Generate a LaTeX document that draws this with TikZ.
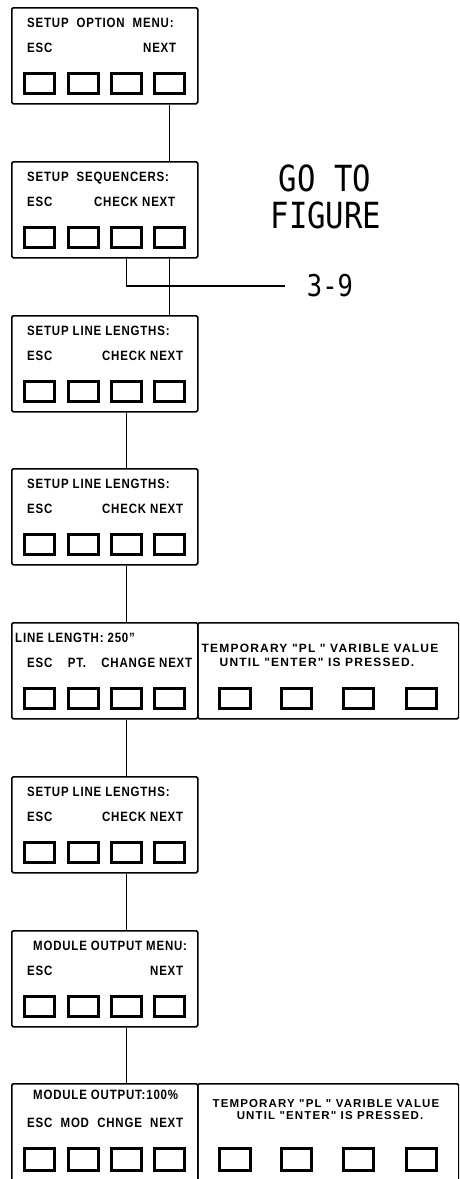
\documentclass[tikz,border=0pt]{standalone}
\usepackage{fontspec}
\setmainfont{Liberation Sans}[FakeStretch=0.85, LetterSpace=6]
\newfontfamily\notefont{Liberation Sans}[LetterSpace=10]
\newfontfamily\cadmono{DejaVu Sans Mono}[FakeStretch=0.85]
\usetikzlibrary{calc}
\newcommand\qq{\symbol{34}}
\newcommand\lpanel[6]{% name, top, title x, title, row2 width, row2
  \node[panel] (#1) at (11,#2) {};
  \node[lbl] (#1t) at (#3,#2+20.5) {#4};
  \node[lbl] (#1r) at (27,#2+45.5) {\makebox[#5pt][s]{#6}};
  \foreach \k/\cx in {1/39.5,2/83.5,3/126.5,4/169.5}
    \node[key] (#1k\k) at (\cx,#2+76.5) {};
}
\begin{document}
\begin{tikzpicture}[x=1pt,y=-1pt,
  panel/.style={draw, line width=1.6pt, rounded corners=1.5pt, minimum width=186pt,
    minimum height=96pt, anchor=north west, inner sep=0pt},
  key/.style={draw, line width=2.8pt, minimum width=30.5pt, minimum height=19.5pt, inner sep=0pt},
  wire/.style={line width=1.6pt},
  lbl/.style={font=\bfseries\fontsize{13.5}{13.5}\selectfont, anchor=base west, inner sep=0pt},
  note/.style={inner sep=0pt, anchor=base, font=\notefont\bfseries\fontsize{12}{12}\selectfont},
  big/.style={font=\cadmono\fontsize{36}{36}\selectfont, inner sep=0pt},
]
\useasboundingbox (0,0) rectangle (459,1179);
\clip (0,0) rectangle (459,1179);

\lpanel{b1}{7}{27}{SETUP\ \ OPTION\ \ MENU:}{149}{ESC\hfill NEXT}
\lpanel{b2}{161}{27}{SETUP\ \ SEQUENCERS:}{148}{ESC\hfill CHECK NEXT}
\lpanel{b3}{315}{27}{SETUP LINE LENGTHS:}{156}{ESC\hfill CHECK NEXT}
\lpanel{b4}{468}{27}{SETUP LINE LENGTHS:}{156}{ESC\hfill CHECK NEXT}
\lpanel{b5}{622}{15}{LINE LENGTH: 250\qq}{165}{ESC\hfill PT.\hfill CHANGE NEXT}
\lpanel{b6}{776}{27}{SETUP LINE LENGTHS:}{156}{ESC\hfill CHECK NEXT}
\lpanel{b7}{930}{33}{MODULE OUTPUT MENU:}{156}{ESC\hfill NEXT}

% box 8
\node[panel, minimum height=110pt] (b8) at (11,1083) {};
\node[lbl] (b8t) at (33,1099.5) {MODULE OUTPUT:100\%};
\node[lbl] (b8r) at (27,1127.5) {\makebox[156pt][s]{ESC\hfill MOD\hfill CHNGE\hfill NEXT}};
\foreach \k/\cx in {1/39.5,2/83.5,3/126.5,4/169.5}
  \node[key, minimum height=22pt] (b8k\k) at (\cx,1159.5) {};

% right panels
\node[panel, minimum width=261pt] (r5) at (197,622) {};
\node[note] (r5a) at (320,652.5) {TEMPORARY \qq PL \qq\ VARIBLE VALUE};
\node[note] (r5b) at (317,666.5) {UNTIL \qq ENTER\qq\ IS PRESSED.};
\foreach \k/\cx in {1/235,2/296.5,3/358.5,4/421.5}
  \node[key] (r5k\k) at (\cx,698.5) {};
\node[panel, minimum width=261pt, minimum height=110pt] (r8) at (197,1083) {};
\node[note, font=\notefont\bfseries\fontsize{11.5}{11.5}\selectfont] (r8a) at (326,1107) {TEMPORARY \qq PL \qq\ VARIBLE VALUE};
\node[note, font=\notefont\bfseries\fontsize{11.5}{11.5}\selectfont] (r8b) at (330,1119.5) {UNTIL \qq ENTER\qq\ IS PRESSED.};
\foreach \k/\cx in {1/235,2/296.5,3/358.5,4/421.5}
  \node[key, minimum height=22pt] (r8k\k) at (\cx,1159.5) {};

% go to figure
\node[big] (goto) at (325,178) {GO TO};
\node[big] (fig) at (326,215) {FIGURE};
\node[big, font=\cadmono\fontsize{30}{30}\selectfont] (n39) at (330,286) {3-9};

% connectors
\draw[wire] (b1.south -| b1k4) -- (b2.north -| b1k4);
\draw[wire] (b2.south -| b2k4) -- (b3.north -| b2k4);
\draw[wire] (b2.south -| b2k3) |- ($(n39.west)+(-22,0)$);
\draw[wire] (b3.south -| b3k3) -- (b4.north -| b3k3);
\draw[wire] (b4.south -| b4k3) -- (b5.north -| b4k3);
\draw[wire] (b5.south -| b5k3) -- (b6.north -| b5k3);
\draw[wire] (b6.south -| b6k3) -- (b7.north -| b6k3);
\draw[wire] (b7.south -| b7k3) -- (b8.north -| b7k3);
\end{tikzpicture}
\end{document}
